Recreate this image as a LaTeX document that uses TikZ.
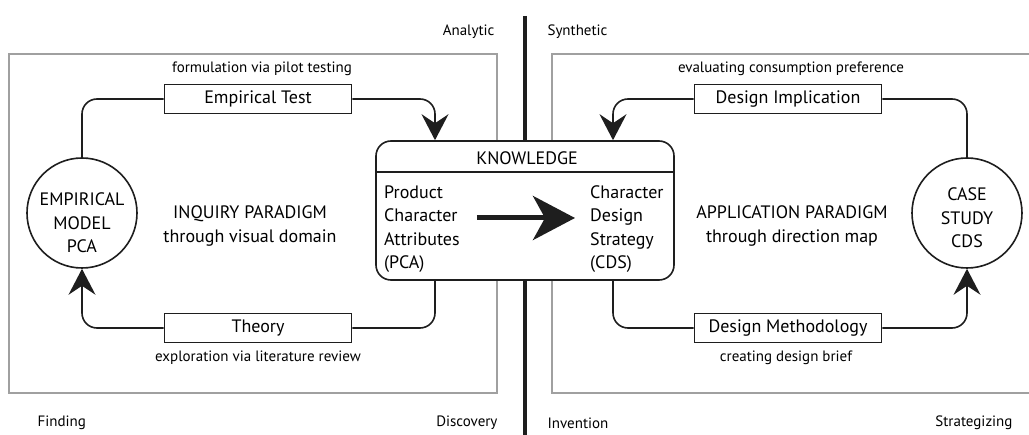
\documentclass[tikz,border=0pt]{standalone}
\usepackage{fontspec}
\setmainfont{PT Sans}
\usetikzlibrary{arrows.meta, positioning, calc}
\definecolor{FrameGray}{RGB}{160,160,160}
\definecolor{InkDark}{RGB}{30,30,30}

\tikzset{
  mainfont/.style={font=\fontsize{18}{23.5}\selectfont},
  notefont/.style={font=\fontsize{15}{18}\selectfont},
  cornerfont/.style={font=\fontsize{15}{18}\selectfont},
  stagebox/.style={draw=InkDark, line width=1.6pt, fill=white, mainfont,
    minimum width=187, minimum height=29, inner sep=0pt},
  roundnode/.style={circle, draw=InkDark, line width=1.6pt, fill=white,
    minimum size=110, inner sep=0pt},
  roundtext/.style={mainfont, align=center, inner sep=0pt},
  conn/.style={draw=InkDark, line width=1.6pt, rounded corners=15pt},
  tip/.tip={Stealth[length=26pt, width=27pt, inset=9pt]},
  frame/.style={draw=FrameGray, line width=2pt},
}

\begin{document}
\begin{tikzpicture}[x=1pt, y=-1pt]
  \useasboundingbox (0,0) rectangle (1029,435);

  % two paradigm frames and the divide
  \draw[frame] (9,54) rectangle (497,393);
  \draw[frame] (1029,54) -- (552,54) -- (552,393) -- (1029,393);
  \draw[InkDark, line width=3.5pt] (525,16) -- (525,435);

  % corner labels
  \node[cornerfont, anchor=east] (analytic) at (498,32) {Analytic};
  \node[cornerfont, anchor=west] (synthetic) at (544,32) {Synthetic};
  \node[cornerfont, anchor=west] (finding) at (34,423) {Finding};
  \node[cornerfont, anchor=east] (discovery) at (501,423) {Discovery};
  \node[cornerfont, anchor=west] (invention) at (544,423) {Invention};
  \node[cornerfont, anchor=east] (strategizing) at (1016,423) {Strategizing};

  % knowledge box
  \node[draw=InkDark, line width=1.6pt, fill=white, rounded corners=15pt,
        minimum width=298, minimum height=139] (know) at (525,210.5) {};
  \draw[InkDark, line width=1.6pt] ([yshift=-32pt]know.north west)
    -- ([yshift=-32pt]know.north east);
  \node[mainfont] (knowtitle) at (527,158) {KNOWLEDGE};
  \node[mainfont, anchor=west, align=left, inner sep=0pt] (pca) at (384,229)
    {Product\\Character\\Attributes\\(PCA)};
  \node[mainfont, anchor=west, align=left, inner sep=0pt] (cds) at (590,229)
    {Character\\Design\\Strategy\\(CDS)};
  \draw[InkDark, line width=5pt, -{Stealth[length=42pt, width=44pt, inset=12pt]}]
    ([shift={(17,-11)}]pca.east) -- ([shift={(-15,-11)}]cds.west);

  \coordinate (know-tl) at ([xshift=-90pt]know.north);
  \coordinate (know-bl) at ([xshift=-90pt]know.south);
  \coordinate (know-tr) at ([xshift=88pt]know.north);
  \coordinate (know-br) at ([xshift=88pt]know.south);

  % inquiry side
  \node[roundnode] (empmodel) at (82,213) {};
  \node[roundtext] (empmodeltext) at (82,223) {EMPIRICAL\\MODEL\\PCA};
  \node[stagebox] (emptest) at (258,99) {Empirical Test};
  \node[stagebox] (theory) at (258,328) {Theory};
  \node[notefont] (emptestnote) at (262,69) {formulation via pilot testing};
  \node[notefont] (theorynote) at (258,358) {exploration via literature review};
  \node[mainfont, align=center] (inquiry) at (250,226)
    {INQUIRY PARADIGM\\through visual domain};

  \draw[conn] (emptest.west) -| (empmodel.north);
  \draw[conn, -{tip}] (emptest.east) -| (know-tl);
  \draw[conn] (know-bl) |- (theory.east);
  \draw[conn, -{tip}] (theory.west) -| (empmodel.south);

  % application side
  \node[roundnode] (casestudy) at (967,213) {};
  \node[roundtext] (casestudytext) at (967,218) {CASE\\STUDY\\CDS};
  \node[stagebox] (desimp) at (788,99) {Design Implication};
  \node[stagebox] (desmeth) at (788,328) {Design Methodology};
  \node[notefont] (desimpnote) at (791,69) {evaluating consumption preference};
  \node[notefont] (desmethnote) at (786,358) {creating design brief};
  \node[mainfont, align=center] (application) at (792,226)
    {APPLICATION PARADIGM\\through direction map};

  \draw[conn] (desimp.east) -| (casestudy.north);
  \draw[conn, -{tip}] (desimp.west) -| (know-tr);
  \draw[conn] (know-br) |- (desmeth.west);
  \draw[conn, -{tip}] (desmeth.east) -| (casestudy.south);
\end{tikzpicture}
\end{document}
